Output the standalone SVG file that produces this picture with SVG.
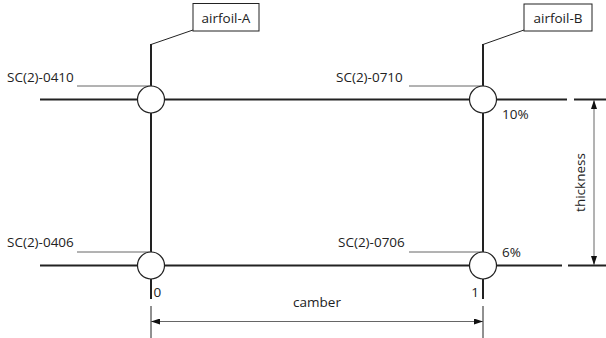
<svg xmlns="http://www.w3.org/2000/svg" width="606" height="338" viewBox="0 0 606 338">
<style>
text{font-family:"Open Sans","Liberation Sans",Arial,sans-serif;font-size:13.5px;fill:#222}
.main{stroke:#222;stroke-width:2;fill:none}
.lead{stroke:#666;stroke-width:1;fill:none}
.dim{stroke:#666;stroke-width:1;fill:none}
.tick{stroke:#222;stroke-width:1;fill:none}
.node{fill:#fff;stroke:#222;stroke-width:1.2}
.box{fill:#fff;stroke:#222;stroke-width:1}
</style>
<defs>
<marker id="ah" viewBox="0 0 10 10" refX="10" refY="5" markerWidth="9" markerHeight="6" markerUnits="userSpaceOnUse" orient="auto-start-reverse" preserveAspectRatio="none">
<path d="M0,0 L10,5 L0,10 Z" fill="#111"/>
</marker>
</defs>
<rect width="606" height="338" fill="#fff"/>
<g id="connectors">
<line class="main" x1="40" y1="99.5" x2="567" y2="99.5"/>
<line class="main" x1="574" y1="99.5" x2="606" y2="99.5"/>
<line class="main" x1="40" y1="265.5" x2="562" y2="265.5"/>
<line class="main" x1="568" y1="265.5" x2="606" y2="265.5"/>
<line class="main" x1="151" y1="44" x2="151" y2="299"/>
<line class="main" x1="483" y1="44" x2="483" y2="299"/>
<polyline class="tick" points="193,30 151,44.5"/>
<polyline class="tick" points="524,30 483,44.5"/>
<line class="lead" x1="77" y1="86" x2="151" y2="86"/>
<line class="lead" x1="409" y1="86" x2="483" y2="86"/>
<line class="lead" x1="77" y1="252" x2="151" y2="252"/>
<line class="lead" x1="409" y1="252" x2="483" y2="252"/>
<line class="tick" x1="151" y1="306" x2="151" y2="338"/>
<line class="tick" x1="483" y1="306" x2="483" y2="338"/>
<line class="dim" x1="151" y1="321.5" x2="483" y2="321.5" marker-start="url(#ah)" marker-end="url(#ah)"/>
<line class="dim" x1="594" y1="100" x2="594" y2="265" marker-start="url(#ah)" marker-end="url(#ah)"/>
</g>
<g id="airfoil-A"><rect class="box" x="193" y="3.5" width="66" height="27.5"/><text x="226" y="22.5" text-anchor="middle">airfoil-A</text></g>
<g id="airfoil-B"><rect class="box" x="524" y="4" width="68" height="27"/><text x="558" y="22.5" text-anchor="middle">airfoil-B</text></g>
<g id="n0410"><circle class="node" cx="151" cy="99.5" r="13.5"/><text x="7" y="82">SC(2)-0410</text></g>
<g id="n0710"><circle class="node" cx="483" cy="99.5" r="13.5"/><text x="336" y="82">SC(2)-0710</text><text x="502" y="119">10%</text></g>
<g id="n0406"><circle class="node" cx="151" cy="265.5" r="13.5"/><text x="7" y="247">SC(2)-0406</text><text x="153.5" y="297">0</text></g>
<g id="n0706"><circle class="node" cx="483" cy="265.5" r="13.5"/><text x="338" y="247">SC(2)-0706</text><text x="502" y="257">6%</text><text x="479" y="297" text-anchor="end">1</text></g>
<g id="labels">
<text x="317" y="307" text-anchor="middle">camber</text>
<text transform="translate(585,182.5) rotate(-90)" text-anchor="middle">thickness</text>
</g>
</svg>
